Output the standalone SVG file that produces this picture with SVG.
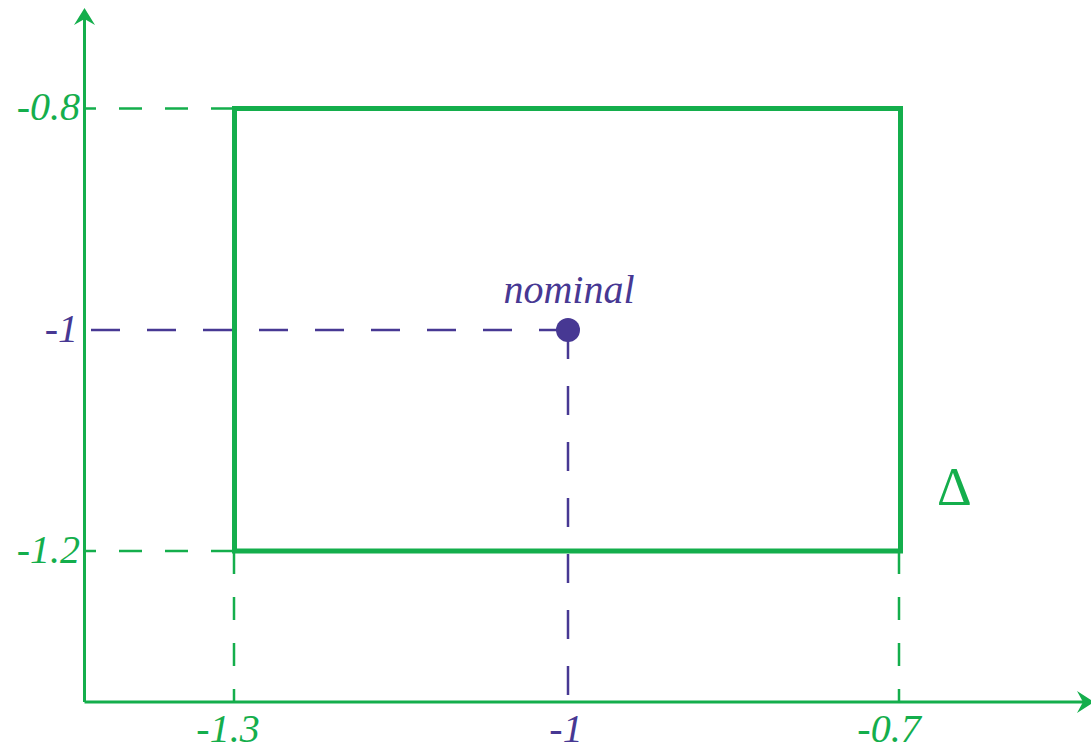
<svg xmlns="http://www.w3.org/2000/svg" width="1091" height="750" viewBox="0 0 1091 750">
<style>
.g{stroke:#14ae4c;fill:none}
.p{stroke:#473893;fill:none}
.gd{stroke:#14ae4c;stroke-width:2.5;stroke-dasharray:23 23;fill:none}
.pd{stroke:#473893;stroke-width:2.5;stroke-dasharray:29 27;fill:none}
.lg{font-family:"Liberation Serif",serif;font-style:italic;font-size:40px;fill:#14ae4c}
.lp{font-family:"Liberation Serif",serif;font-style:italic;font-size:40px;fill:#473893}
</style>
<rect width="1091" height="750" fill="#fff"/>
<g id="guides">
<path class="gd" d="M234 108.5H85"/>
<path class="gd" d="M234 551H85"/>
<path class="gd" d="M234 551V702"/>
<path class="gd" d="M899 551V702"/>
<path class="pd" d="M568 330H85"/>
<path class="pd" d="M568 330V702"/>
</g>
<g id="axes">
<path class="g" stroke-width="3" d="M84.5 702V12"/>
<path class="g" stroke-width="3" d="M84.5 702H1088"/>
<path fill="#14ae4c" d="M84.5 8L95 25L84.5 19L74 25Z"/>
<path fill="#14ae4c" d="M1094 702L1077 691L1083 702L1077 713Z"/>
</g>
<g id="box">
<rect class="g" stroke-width="5" x="234.5" y="108.5" width="666" height="442.5"/>
<text x="937" y="505" style="font-family:'Liberation Serif',serif;font-size:54px;fill:#14ae4c">Δ</text>
</g>
<g id="nominal">
<circle cx="568" cy="330" r="12" fill="#473893"/>
<text class="lp" x="569" y="303" text-anchor="middle">nominal</text>
</g>
<g id="labels">
<text class="lg" x="80" y="120" text-anchor="end">-0.8</text>
<text class="lp" x="78" y="342" text-anchor="end">-1</text>
<text class="lg" x="80" y="563" text-anchor="end">-1.2</text>
<text class="lg" x="228" y="742" text-anchor="middle">-1.3</text>
<text class="lp" x="566" y="742" text-anchor="middle">-1</text>
<text class="lg" x="889" y="742" text-anchor="middle">-0.7</text>
</g>
</svg>
